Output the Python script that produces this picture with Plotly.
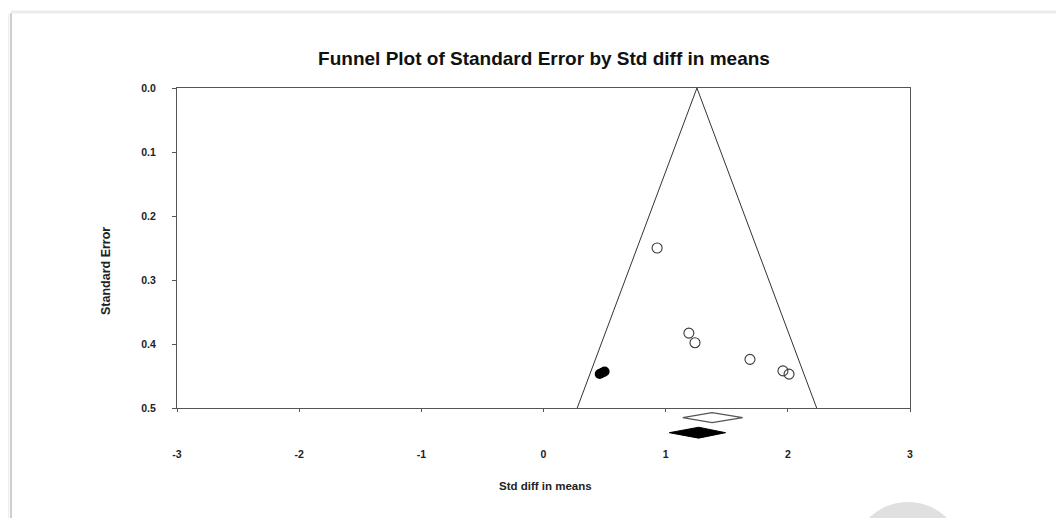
import plotly.graph_objects as go

# ---------------- data ----------------
x_ticks = [-3, -2, -1, 0, 1, 2, 3]
x_tick_labels = ["-3", "-2", "-1", "0", "1", "2", "3"]
y_ticks = [0.0, 0.1, 0.2, 0.3, 0.4, 0.5]
y_tick_labels = ["0.0", "0.1", "0.2", "0.3", "0.4", "0.5"]

observed_std_diff = [0.93, 1.19, 1.24, 1.69, 1.96, 2.01]
observed_se = [0.250, 0.383, 0.398, 0.424, 0.442, 0.447]

imputed_std_diff = [0.46, 0.48, 0.50]
imputed_se = [0.447, 0.445, 0.443]

funnel_center = 1.256
max_se = 0.5

observed_summary = [1.14, 1.38, 1.63]   # lower, estimate, upper
adjusted_summary = [1.03, 1.27, 1.49]   # lower, estimate, upper

# ---------------- layout helpers ----------------
OFF = 8                                  # page body margin
W, H = 1064 - OFF, 518 - OFF
L, R, T, B = 177 - OFF, 910 - OFF, 88 - OFF, 445 - OFF   # plot area (figure px)
AXIS_Y = 408 - OFF
PH = B - T
PW = R - L
strip = (B - AXIS_Y) / PH


def px(xp):          # page pixel -> paper x
    return (xp - OFF - L) / PW


def py(yp):          # page pixel -> paper y
    return (B - (yp - OFF)) / PH


NARROW = "Liberation Sans Narrow, Arial Narrow, Liberation Sans, Arial, sans-serif"
SANS = "Liberation Sans, Arial, sans-serif"

fig = go.Figure()

# funnel
z = 1.96
fig.add_trace(go.Scatter(
    x=[funnel_center - z * max_se, funnel_center, funnel_center + z * max_se],
    y=[max_se, 0, max_se],
    mode="lines", line=dict(color="#333333", width=1),
    hoverinfo="skip", showlegend=False,
))

# observed studies
fig.add_trace(go.Scatter(
    x=observed_std_diff, y=observed_se, mode="markers",
    marker=dict(symbol="circle-open", size=10, color="#3a3a3a", line=dict(width=1.1)),
    showlegend=False,
))

# imputed studies
fig.add_trace(go.Scatter(
    x=imputed_std_diff, y=imputed_se, mode="markers",
    marker=dict(symbol="circle", size=10, color="#000000"),
    showlegend=False,
))


def diamond(summary, c, h):
    lo, est, hi = summary
    return [lo, est, hi, est, lo], [c, c - h, c, c + h, c]


dx, dy = diamond(observed_summary, 0.515, 0.0078)
fig.add_trace(go.Scatter(
    x=dx, y=dy, yaxis="y2", mode="lines", fill="toself",
    fillcolor="white", line=dict(color="#555555", width=1.2),
    showlegend=False, hoverinfo="skip",
))
dx, dy = diamond(adjusted_summary, 0.5386, 0.0085)
fig.add_trace(go.Scatter(
    x=dx, y=dy, yaxis="y2", mode="lines", fill="toself",
    fillcolor="black", line=dict(color="black", width=1),
    showlegend=False, hoverinfo="skip",
))

tickfont = dict(family=NARROW, size=10.5, color="#222222", weight="bold")

fig.update_layout(
    width=W, height=H,
    margin=dict(l=L, r=W - R, t=T, b=H - B, pad=0),
    paper_bgcolor="white", plot_bgcolor="white",
    title=dict(
        text="Funnel Plot of Standard Error by Std diff in means",
        font=dict(family=SANS, size=19, color="#111111", weight="bold"),
        x=(544 - OFF) / W, xanchor="center", y=1 - (58 - OFF) / H, yanchor="middle",
    ),
    xaxis=dict(
        anchor="y", range=[-3, 3], tickvals=x_ticks, ticktext=x_tick_labels,
        showline=True, linecolor="#555555", linewidth=1, mirror=True,
        ticks="outside", ticklen=3, tickcolor="#555555",
        ticklabelstandoff=33, tickfont=tickfont,
        showgrid=False, zeroline=False,
    ),
    yaxis=dict(
        domain=[strip, 1], range=[0.5, 0], tickvals=y_ticks, ticktext=y_tick_labels,
        showline=True, linecolor="#555555", linewidth=1, mirror=True,
        ticks="outside", ticklen=4, tickcolor="#555555",
        ticklabelstandoff=14, tickfont=tickfont,
        showgrid=False, zeroline=False,
    ),
    yaxis2=dict(
        domain=[0, strip], range=[0.5 + (B - AXIS_Y) / 640, 0.5],
        visible=False, anchor="x",
    ),
    annotations=[
        dict(text="Std diff in means", xref="paper", yref="paper",
             x=px(545), y=py(486), showarrow=False, xanchor="center", yanchor="middle",
             font=dict(family=NARROW, size=11.5, color="#222222", weight="bold")),
        dict(text="Standard Error", xref="paper", yref="paper",
             x=px(106), y=py(271), showarrow=False, textangle=-90,
             xanchor="center", yanchor="middle",
             font=dict(family=NARROW, size=12.5, color="#222222", weight="bold")),
    ],
    shapes=[
        # screenshot shadow edges
        dict(type="line", xref="paper", yref="paper", x0=px(8), x1=px(8), y0=py(14), y1=py(530),
             line=dict(color="#efefef", width=3), layer="below"),
        dict(type="line", xref="paper", yref="paper", x0=px(11), x1=px(11), y0=py(13), y1=py(530),
             line=dict(color="#cfcfcf", width=2), layer="below"),
        dict(type="line", xref="paper", yref="paper", x0=px(11), x1=px(1070), y0=py(12), y1=py(12),
             line=dict(color="#ececec", width=3), layer="below"),
        # grey circle in the lower right corner
        dict(type="circle", xref="paper", yref="paper",
             x0=px(908 - 56), x1=px(908 + 56), y0=py(558 + 56), y1=py(558 - 56),
             fillcolor="#e0e0e0", line=dict(width=0), layer="below"),
    ],
)

fig.write_html("out.html")
